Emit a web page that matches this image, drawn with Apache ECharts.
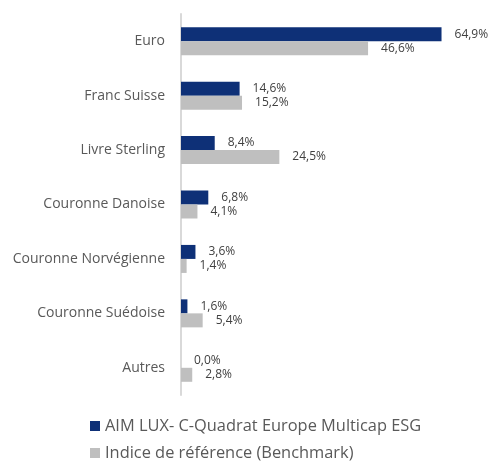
<!DOCTYPE html>
<html>
<head>
<meta charset="utf-8">
<script src="https://cdn.jsdelivr.net/npm/echarts@6/dist/echarts.min.js"></script>
<style>
  html, body { margin: 0; padding: 0; background: #fff; }
  #chart { width: 490px; height: 462px; }
</style>
</head>
<body>
<div id="chart"></div>
<script>
  const categories = ['Euro', 'Franc Suisse', 'Livre Sterling', 'Couronne Danoise',
    'Couronne Norvégienne', 'Couronne Suédoise', 'Autres'];
  const fundName = 'AIM LUX- C-Quadrat Europe Multicap ESG';
  const benchName = 'Indice de référence (Benchmark)';
  const fundValues = [64.9, 14.6, 8.4, 6.8, 3.6, 1.6, 0.0];
  const benchValues = [46.6, 15.2, 24.5, 4.1, 1.4, 5.4, 2.8];

  const font = 'Open Sans';
  const pct = p => p.value.toFixed(1).replace('.', ',') + '%';

  const chart = echarts.init(document.getElementById('chart'));
  chart.setOption({
    animation: false,
    textStyle: { fontFamily: font },
    grid: { left: 181, right: 28, top: 14, bottom: 67 },
    legend: {
      orient: 'vertical',
      left: 90,
      top: 418,
      height: 60,
      itemWidth: 10,
      itemHeight: 10,
      itemGap: 11,
      padding: 0,
      icon: 'rect',
      textStyle: { fontFamily: font, fontSize: 16.4, color: '#595959', lineHeight: 16 },
      data: [fundName, benchName]
    },
    xAxis: {
      type: 'value',
      min: 0,
      max: 70,
      show: false
    },
    yAxis: {
      type: 'category',
      inverse: true,
      data: categories,
      axisLine: { lineStyle: { color: '#d9d9d9', width: 2 } },
      axisTick: { show: false },
      axisLabel: { fontFamily: font, fontSize: 14, color: '#595959', margin: 16 }
    },
    series: [
      {
        name: fundName,
        type: 'bar',
        data: fundValues,
        barWidth: 14,
        barGap: '0%',
        itemStyle: { color: '#0e3077' },
        label: { show: true, position: 'right', distance: 13, formatter: pct,
          fontFamily: font, fontSize: 12, color: '#404040' }
      },
      {
        name: benchName,
        type: 'bar',
        data: benchValues,
        barWidth: 14,
        barGap: '0%',
        itemStyle: { color: '#bfbfbf' },
        label: { show: true, position: 'right', distance: 13, formatter: pct,
          fontFamily: font, fontSize: 12, color: '#404040' }
      }
    ]
  });
</script>
</body>
</html>
